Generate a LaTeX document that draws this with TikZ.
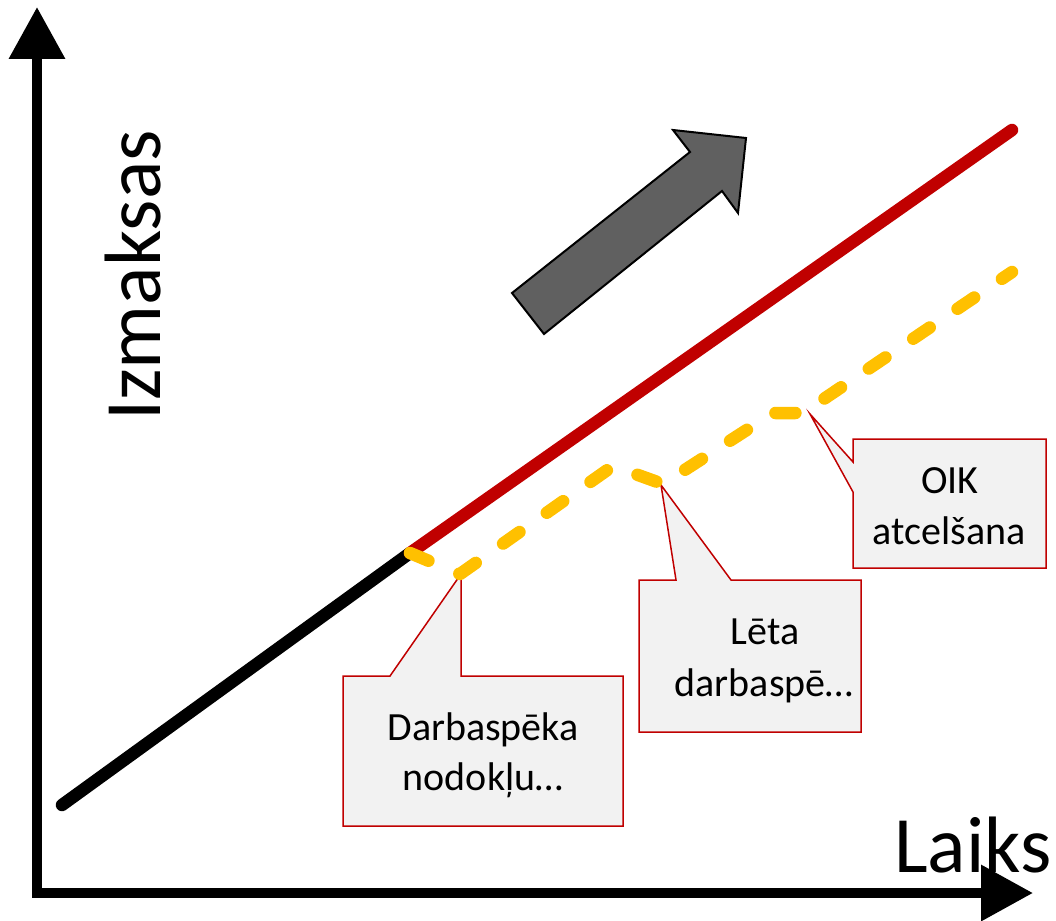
\documentclass[tikz,border=0pt]{standalone}
\usepackage{fontspec}
\setmainfont{Carlito}
\usetikzlibrary{arrows.meta}
\definecolor{cred}{HTML}{C00000}
\definecolor{cyel}{HTML}{FFC000}
\definecolor{cgray}{HTML}{606060}
\definecolor{cfill}{HTML}{F2F2F2}
\begin{document}
\begin{tikzpicture}[x=1pt,y=-1pt,
  axisline/.style={line width=10pt,line join=miter,
    {Triangle[width=54pt,length=52pt]}-{Triangle[width=54pt,length=52pt]}},
  dataline/.style={line width=12.5pt,line cap=round},
  planline/.style={line width=12.5pt,line cap=round,line join=round,color=cyel,
    dash pattern=on 20pt off 33.5pt},
  bigarrow/.style={fill=cgray,draw=black,line width=2pt,line join=miter},
  calloutbox/.style={fill=cfill,draw=cred,line width=1.5pt,line join=miter},
  calltext/.style={inner sep=0pt,anchor=base,font=\fontsize{40}{50}\selectfont},
  axistext/.style={inner sep=0pt,anchor=base west,font=\fontsize{80}{96}\selectfont}]
\path[use as bounding box] (0,0) rectangle (1056,920);

% axes
\coordinate (ytip) at (37,7);
\coordinate (orig) at (37,893);
\coordinate (xtip) at (1033,893);
\draw[axisline] (ytip) -- (orig) -- (xtip);
\node[axistext,rotate=90] (ylab) at (160,421) {Izmaksas};
\node[axistext] (xlab) at (894,872) {Laiks};

% data lines
\coordinate (s0) at (62,805);
\coordinate (s1) at (410,553);
\coordinate (s2) at (1012,130);
\draw[dataline,black] (s0) -- (s1);
\draw[dataline,cred] (s1) -- (s2);

% trend arrow
\draw[bigarrow] (512,293) -- (544,334) -- (722,191) -- (738,213) -- (746,138)
  -- (673,130) -- (690,152) -- cycle;

% callouts
\coordinate (p1) at (461,574);
\coordinate (p2) at (661,485);
\coordinate (p3) at (810,414);
\draw[calloutbox] (343,676) -- (390,676) -- (p1) -- (461,676) -- (623,676)
  -- (623,826) -- (343,826) -- cycle;
\draw[calloutbox] (639,580) -- (676,580) -- (p2) -- (731,580) -- (861,580)
  -- (861,732) -- (639,732) -- cycle;
\draw[calloutbox] (853,439) -- (1046,439) -- (1046,568) -- (853,568)
  -- (853,492) -- (p3) -- (853,462) -- cycle;

% plan line
\draw[planline] (s1) -- (460,574) -- (613,466) -- (663,484) -- (773,413)
  -- (803,413) -- (1012,272);

\node[calltext] (c1a) at (483,740) {Darbaspēka};
\node[calltext] (c1b) at (483,790) {nodokļu…};
\node[calltext] (c2a) at (765,644) {Lēta};
\node[calltext] (c2b) at (764,696) {darbaspē…};
\node[calltext] (c3a) at (950,493) {OIK};
\node[calltext] (c3b) at (949,544) {atcelšana};
\end{tikzpicture}
\end{document}
